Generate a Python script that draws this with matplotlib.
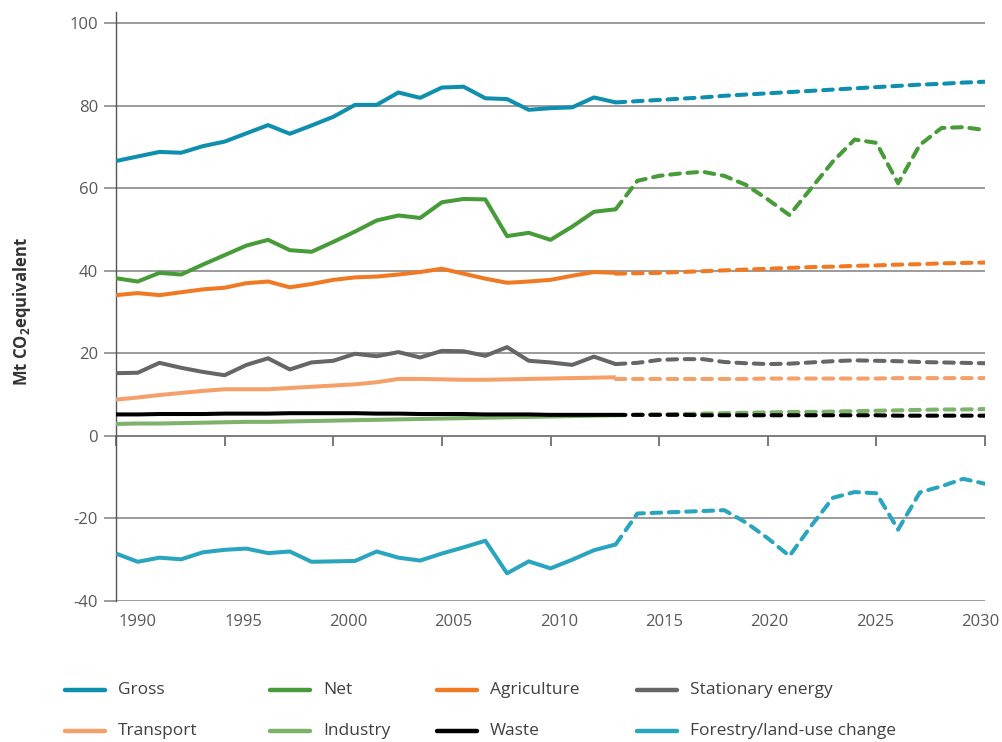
import matplotlib
matplotlib.use("Agg")
import matplotlib.pyplot as plt
from matplotlib.lines import Line2D

# ---------------- data ----------------
hist_years = list(range(1990, 2014))
proj_years = list(range(2013, 2031))

gross_hist = [66.6, 67.7, 68.8, 68.6, 70.2, 71.3, 73.3, 75.3, 73.2, 75.2, 77.3, 80.2,
              80.2, 83.2, 81.9, 84.4, 84.6, 81.8, 81.6, 79.0, 79.4, 79.6, 82.0, 80.8]
gross_proj = [80.8, 81.1, 81.4, 81.7, 82.0, 82.4, 82.7, 83.0, 83.3, 83.6, 83.9, 84.2,
              84.5, 84.8, 85.1, 85.3, 85.6, 85.8]

net_hist = [38.2, 37.4, 39.5, 39.1, 41.5, 43.8, 46.1, 47.5, 45.0, 44.6, 47.0, 49.5,
            52.2, 53.4, 52.8, 56.6, 57.4, 57.3, 48.4, 49.2, 47.5, 50.7, 54.3, 54.9]
net_proj = [54.9, 61.8, 63.0, 63.6, 64.0, 63.0, 60.8, 57.3, 53.5, 60.0, 66.5, 71.8,
            71.0, 61.2, 70.5, 74.6, 74.8, 74.1]

agri_hist = [34.1, 34.6, 34.1, 34.8, 35.5, 35.9, 37.0, 37.4, 36.0, 36.8, 37.8, 38.4,
             38.6, 39.1, 39.7, 40.5, 39.3, 38.1, 37.1, 37.4, 37.8, 38.8, 39.7, 39.5]
agri_proj = [39.3, 39.4, 39.5, 39.7, 39.9, 40.1, 40.3, 40.5, 40.7, 40.9, 41.0, 41.2,
             41.3, 41.5, 41.6, 41.8, 41.9, 42.0]

stat_hist = [15.2, 15.3, 17.7, 16.5, 15.5, 14.7, 17.2, 18.8, 16.1, 17.8, 18.2, 19.9,
             19.3, 20.3, 19.0, 20.6, 20.5, 19.4, 21.5, 18.2, 17.8, 17.2, 19.2, 17.4]
stat_proj = [17.4, 17.7, 18.4, 18.6, 18.6, 17.9, 17.6, 17.4, 17.5, 17.8, 18.1, 18.3,
             18.2, 18.1, 17.9, 17.8, 17.7, 17.6]

trans_hist = [8.8, 9.3, 9.9, 10.4, 10.9, 11.3, 11.3, 11.3, 11.6, 11.9, 12.2, 12.5,
              13.0, 13.8, 13.8, 13.7, 13.6, 13.6, 13.7, 13.8, 13.9, 14.0, 14.1, 14.2]
trans_proj = [13.8, 13.8, 13.8, 13.8, 13.8, 13.8, 13.8, 13.9, 13.9, 13.9, 13.9, 13.9,
              13.9, 14.0, 14.0, 14.0, 14.0, 14.0]

ind_hist = [2.9, 3.0, 3.0, 3.1, 3.2, 3.3, 3.4, 3.4, 3.5, 3.6, 3.7, 3.8,
            3.9, 4.0, 4.1, 4.2, 4.3, 4.4, 4.5, 4.6, 4.7, 4.8, 4.9, 5.0]
ind_proj = [5.0, 5.1, 5.2, 5.3, 5.4, 5.5, 5.6, 5.7, 5.8, 5.8, 5.9, 6.0,
            6.1, 6.2, 6.3, 6.4, 6.4, 6.5]

waste_hist = [5.2, 5.2, 5.3, 5.3, 5.3, 5.4, 5.4, 5.4, 5.5, 5.5, 5.5, 5.5,
              5.4, 5.4, 5.3, 5.3, 5.3, 5.2, 5.2, 5.2, 5.1, 5.1, 5.1, 5.1]
waste_proj = [5.1, 5.1, 5.1, 5.1, 5.0, 5.0, 5.0, 5.0, 5.0, 5.0, 5.0, 5.0,
              5.0, 4.9, 4.9, 4.9, 4.9, 4.9]

forest_hist = [-28.5, -30.5, -29.5, -29.9, -28.2, -27.6, -27.3, -28.4, -28.0, -30.5, -30.4, -30.3,
               -28.0, -29.5, -30.2, -28.5, -27.0, -25.4, -33.3, -30.4, -32.1, -30.0, -27.7, -26.3]
forest_proj = [-26.3, -18.8, -18.6, -18.4, -18.2, -18.0, -21.0, -24.8, -29.1, -21.8, -15.0, -13.6,
               -13.9, -22.7, -13.7, -12.2, -10.4, -11.6]

series_names = ["Gross", "Net", "Agriculture", "Stationary energy",
                "Transport", "Industry", "Waste", "Forestry/land-use change"]

y_ticks = [-40, -20, 0, 20, 40, 60, 80, 100]
x_tick_years = [1990, 1995, 2000, 2005, 2010, 2015, 2020, 2025, 2030]
x_tick_labels = ["1990", "1995", "2000", "2005", "2010", "2015", "2020", "2025", "2030"]

# ---------------- style ----------------
colors = {
    "Gross": "#0f8fae",
    "Net": "#479b38",
    "Agriculture": "#f07a24",
    "Stationary energy": "#666666",
    "Transport": "#f5a06a",
    "Industry": "#7db26a",
    "Waste": "#000000",
    "Forestry/land-use change": "#2aa5c0",
}
plt.rcParams["font.family"] = ["Open Sans", "DejaVu Sans"]
plt.rcParams["axes.unicode_minus"] = False

W, H = 1003, 742
fig = plt.figure(figsize=(W / 100, H / 100), dpi=100)
ax = fig.add_axes([116 / W, 1 - 601 / H, (985 - 116) / W, (601 - 12) / H])
ax.set_xlim(1990, 2030)
ax.set_ylim(-40, 102.7)

grid_c = "#808080"
axis_c = "#555555"
LW = 2.9
dash = (2.4, 1.9)

data = [
    ("Gross", gross_hist, gross_proj),
    ("Net", net_hist, net_proj),
    ("Agriculture", agri_hist, agri_proj),
    ("Stationary energy", stat_hist, stat_proj),
    ("Transport", trans_hist, trans_proj),
    ("Industry", ind_hist, ind_proj),
    ("Waste", waste_hist, waste_proj),
    ("Forestry/land-use change", forest_hist, forest_proj),
]

# gridlines
ax.set_yticks(y_ticks)
ax.yaxis.grid(True, color=grid_c, linewidth=1.1)
ax.set_axisbelow(True)
ax.tick_params(axis="y", length=9, width=1.1, color=grid_c, labelsize=12,
               labelcolor="#595959", pad=4)
for s in ["top", "right", "bottom"]:
    ax.spines[s].set_visible(False)
ax.spines["left"].set_color(axis_c)
ax.spines["left"].set_linewidth(1.0)

# primary x axis: labels only (offset placement, as in the original layout)
ax.set_xticks([y + 1.01 - 1.24 * (y - 1990) / 40 for y in x_tick_years])
ax.set_xticklabels(x_tick_labels)
ax.tick_params(axis="x", length=0, labelsize=12, labelcolor="#595959", pad=9)

# secondary axis at y = 0 with tick marks
zero_frac = (0 - (-40)) / (102.7 - (-40))
sec = ax.secondary_xaxis(zero_frac)
sec.set_xticks(x_tick_years)
sec.set_xticklabels([])
sec.tick_params(axis="x", direction="out", length=7, width=1.1, color=axis_c)
sec.spines["bottom"].set_color(axis_c)
sec.spines["bottom"].set_linewidth(1.1)
sec.spines["top"].set_visible(False)

order = [6, 5, 4, 3, 2, 1, 0, 7]
for i in order:
    name, h, p = data[i]
    c = colors[name]
    ax.plot(hist_years, h, color=c, lw=LW, solid_capstyle="butt",
            solid_joinstyle="round", zorder=3 + i * 0.1)
    ax.plot(proj_years, p, color=c, lw=LW, linestyle=(0, dash),
            dash_capstyle="round", dash_joinstyle="round", zorder=3 + i * 0.1)

# y label
fig.text(22 / W, 1 - 312 / H, "Mt CO$_\\mathregular{2}$equivalent", rotation=90,
         ha="center", va="center", fontsize=12, fontweight="bold", color="#333333")

# legend (manual layout)
leg_cols = [65, 270, 437, 637]
leg_rows = [690, 731]
for k, name in enumerate(series_names):
    r, cidx = divmod(k, 4)
    x0 = leg_cols[cidx]
    yy = 1 - leg_rows[r] / H
    fig.add_artist(Line2D([x0 / W, (x0 + 40) / W], [yy, yy], transform=fig.transFigure,
                          color=colors[name], lw=3.2, solid_capstyle="round"))
    fig.text((x0 + 53) / W, yy, name, ha="left", va="center", fontsize=12.5,
             color="#404040")

fig.savefig("out.png", dpi=100)
